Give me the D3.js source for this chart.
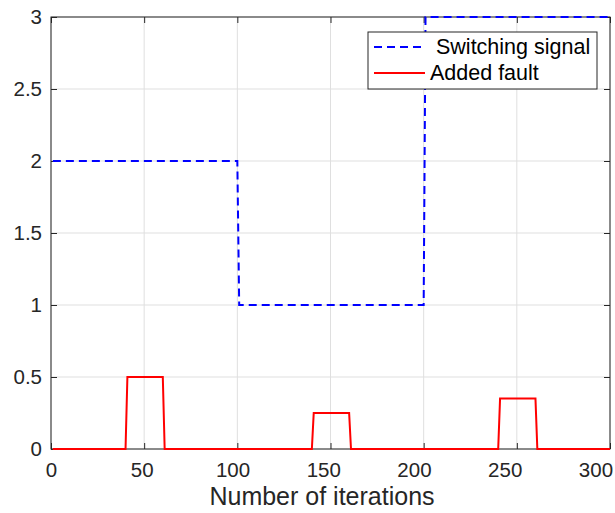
<!DOCTYPE html>
<html lang="en">
<head>
  <meta charset="UTF-8">
  <title>Switching signal and added fault</title>
  <script src="https://d3js.org/d3.v7.min.js"></script>
  <style>
    body {
      margin: 0;
      padding: 0;
      background: #ffffff;
    }
    svg {
      display: block;
      font-family: 'Liberation Sans', Arial, sans-serif;
    }
  </style>
</head>
<body>
  <svg id="chart" width="615" height="513"></svg>

  <script>
    // values (iteration index, level)
    const switchX = [1, 100, 101, 200, 201, 300];
    const switchY = [2, 2, 1, 1, 3, 3];

    const faultX = [1, 40, 41, 60, 61, 140, 141, 160, 161, 240, 241, 260, 261, 300];
    const faultY = [0, 0, 0.5, 0.5, 0, 0, 0.25, 0.25, 0, 0, 0.35, 0.35, 0, 0];

    const xTicks = [0, 50, 100, 150, 200, 250, 300];
    const yTicks = [0, 0.5, 1, 1.5, 2, 2.5, 3];
    const legendLabels = ["Switching signal", "Added fault"];

    const plotLeft = 51, plotRight = 610, plotTop = 17, plotBottom = 449;
    const axisColor = "#262626";

    const svg = d3.select("#chart");

    const x = d3.scaleLinear().domain([0, 300]).range([plotLeft, plotRight]);
    const y = d3.scaleLinear().domain([0, 3]).range([plotBottom, plotTop]);
    // in the exported figure the x tick labels sit on a slightly narrower span
    const xLabelPos = d3.scaleLinear().domain([0, 300]).range([plotLeft, plotLeft + (plotRight - plotLeft) * 0.974]);

    // grid
    const grid = svg.append("g")
      .attr("stroke", "#dfdfdf")
      .attr("stroke-width", 1);

    grid.selectAll("line.gx")
      .data(xTicks)
      .join("line")
      .attr("class", "gx")
      .attr("x1", d => x(d)).attr("x2", d => x(d))
      .attr("y1", plotTop).attr("y2", plotBottom);

    grid.selectAll("line.gy")
      .data(yTicks)
      .join("line")
      .attr("class", "gy")
      .attr("x1", plotLeft).attr("x2", plotRight)
      .attr("y1", d => y(d)).attr("y2", d => y(d));

    // axes, MATLAB style: ticks inside, box all round
    const tickLen = 6;
    const axisStyle = g => {
      g.select(".domain").remove();
      g.selectAll(".tick line").attr("stroke", axisColor);
      g.selectAll(".tick text")
        .attr("fill", axisColor)
        .style("font-size", "20.5px")
        .style("font-family", "'Liberation Sans', Arial, sans-serif");
    };

    svg.append("g")
      .attr("transform", `translate(0,${plotBottom})`)
      .call(d3.axisBottom(x).tickValues(xTicks).tickSize(-tickLen).tickPadding(13).tickFormat(d3.format("d")))
      .call(axisStyle)
      .call(g => g.selectAll(".tick text").attr("x", d => xLabelPos(d) - x(d)));

    svg.append("g")
      .attr("transform", `translate(0,${plotTop})`)
      .call(d3.axisTop(x).tickValues(xTicks).tickSize(-tickLen).tickFormat(""))
      .call(axisStyle);

    svg.append("g")
      .attr("transform", `translate(${plotLeft},0)`)
      .call(d3.axisLeft(y).tickValues(yTicks).tickSize(-tickLen).tickPadding(9).tickFormat(d3.format("")))
      .call(axisStyle);

    svg.append("g")
      .attr("transform", `translate(${plotRight},0)`)
      .call(d3.axisRight(y).tickValues(yTicks).tickSize(-tickLen).tickFormat(""))
      .call(axisStyle);

    svg.append("rect")
      .attr("x", plotLeft).attr("y", plotTop)
      .attr("width", plotRight - plotLeft).attr("height", plotBottom - plotTop)
      .attr("fill", "none")
      .attr("stroke", axisColor)
      .attr("stroke-width", 1);

    // series
    const line = d3.line().x(d => x(d[0])).y(d => y(d[1]));

    svg.append("path")
      .datum(d3.zip(switchX, switchY))
      .attr("fill", "none")
      .attr("stroke", "#0000ff")
      .attr("stroke-width", 2)
      .attr("stroke-dasharray", "8,5")
      .attr("d", line);

    svg.append("path")
      .datum(d3.zip(faultX, faultY))
      .attr("fill", "none")
      .attr("stroke", "#ff0000")
      .attr("stroke-width", 2)
      .attr("d", line);

    // x label
    svg.append("text")
      .attr("x", 322)
      .attr("y", 505)
      .attr("text-anchor", "middle")
      .attr("fill", axisColor)
      .style("font-size", "25px")
      .text("Number of iterations");

    // legend
    const legend = svg.append("g").attr("transform", "translate(368,32)");
    legend.append("rect")
      .attr("width", 229).attr("height", 57)
      .attr("fill", "#ffffff")
      .attr("stroke", axisColor)
      .attr("stroke-width", 1);

    const legendStyles = [
      { color: "#0000ff", dash: "8,5" },
      { color: "#ff0000", dash: null }
    ];

    legendLabels.forEach((label, i) => {
      const yy = 15 + i * 26;
      legend.append("line")
        .attr("x1", 6).attr("x2", 57)
        .attr("y1", yy).attr("y2", yy)
        .attr("stroke", legendStyles[i].color)
        .attr("stroke-width", 2)
        .attr("stroke-dasharray", legendStyles[i].dash);
      legend.append("text")
        .attr("x", i === 0 ? 68 : 62)
        .attr("y", yy + 7)
        .attr("fill", "#000000")
        .style("font-size", "21.5px")
        .text(label);
    });
  </script>
</body>
</html>
